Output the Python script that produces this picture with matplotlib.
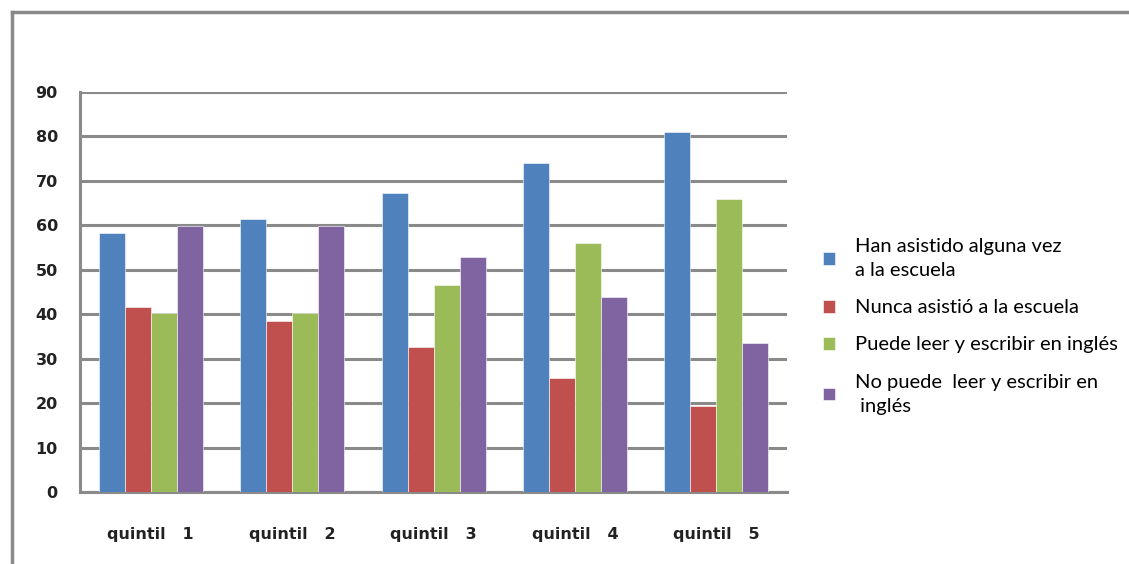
import numpy as np
import matplotlib.pyplot as plt
from matplotlib.lines import Line2D

categories = ['quintil   1', 'quintil   2', 'quintil   3', 'quintil   4', 'quintil   5']
asistido = [58.3, 61.5, 67.3, 74.1, 80.9]
nunca = [41.7, 38.5, 32.7, 25.7, 19.3]
lee_ingles = [40.2, 40.3, 46.6, 56.1, 65.9]
no_lee_ingles = [59.9, 59.9, 52.9, 43.9, 33.5]

series = [
    (asistido, 'Han asistido alguna vez\na la escuela', '#4F81BD'),
    (nunca, 'Nunca asistió a la escuela', '#C0504D'),
    (lee_ingles, 'Puede leer y escribir en inglés', '#9BBB59'),
    (no_lee_ingles, 'No puede  leer y escribir en\n inglés', '#8064A2'),
]

plt.rcParams['font.family'] = ['DejaVu Sans']
tick_font = ['Liberation Sans Narrow', 'DejaVu Sans']

fig = plt.figure(figsize=(11.29, 5.64), dpi=100)
ax = fig.add_axes([0.0709, 0.1277, 0.6262, 0.7092])

x = np.arange(len(categories))
w = 0.184
for i, (vals, label, color) in enumerate(series):
    ax.bar(x + (i - 1.5) * w, vals, w, color=color, label=label,
           edgecolor='white', linewidth=0.4, zorder=3)

ax.set_xlim(-0.5, 4.5)
ax.set_ylim(0, 90)
ax.set_yticks(range(0, 91, 10))
ax.set_xticks(x)
ax.set_xticklabels(categories)
ax.yaxis.grid(True, color='#8a8a8a', linewidth=2.2, zorder=0)
ax.set_axisbelow(True)
ax.tick_params(axis='both', length=0, labelsize=11.5, labelcolor='#222222')
ax.tick_params(axis='x', pad=25)
ax.tick_params(axis='y', pad=16)
for lab in ax.get_xticklabels() + ax.get_yticklabels():
    lab.set_fontweight('bold')
    lab.set_fontfamily(tick_font)
for s in ['top', 'right']:
    ax.spines[s].set_visible(False)
for s in ['left', 'bottom']:
    ax.spines[s].set_color('#8a8a8a')
    ax.spines[s].set_linewidth(2.2)

leg = ax.legend(loc='upper left', bbox_to_anchor=(0.722, 0.592),
                bbox_transform=fig.transFigure, frameon=False,
                prop={'family': 'Lato', 'size': 14.5},
                handlelength=0.6, handleheight=0.6, handletextpad=1.0,
                labelspacing=1.0, borderaxespad=0)
for t in leg.get_texts():
    t.set_linespacing(1.5)

# outer chart frame
fig.add_artist(Line2D([12 / 1129, 12 / 1129], [0, 1 - 12 / 564],
                      transform=fig.transFigure, color='#8a8a8a', linewidth=2.5))
fig.add_artist(Line2D([12 / 1129, 1], [1 - 12 / 564, 1 - 12 / 564],
                      transform=fig.transFigure, color='#8a8a8a', linewidth=2.5))

fig.savefig('out.png', dpi=100)
